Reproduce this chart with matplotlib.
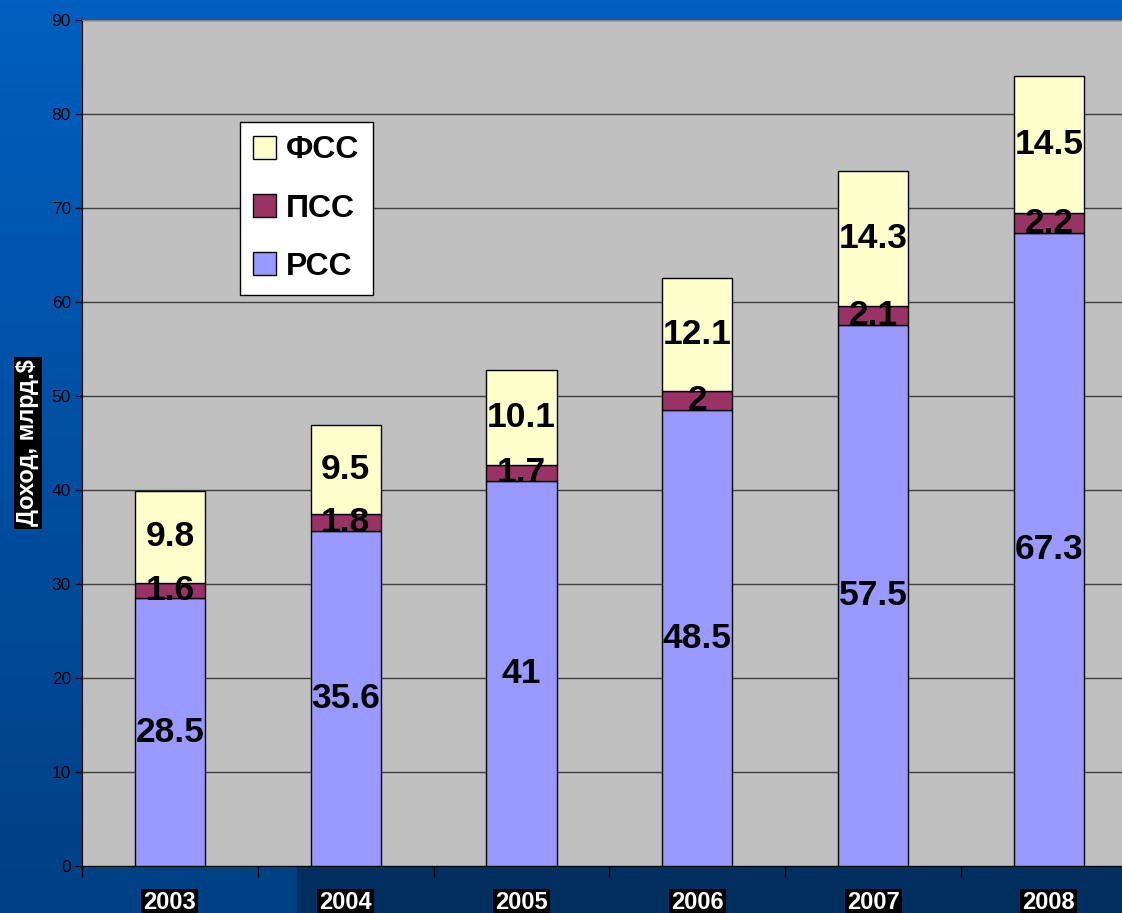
import numpy as np
import matplotlib.pyplot as plt
from matplotlib.patches import Rectangle

# Data
years = ['2003', '2004', '2005', '2006', '2007', '2008']
rss = [28.5, 35.6, 41, 48.5, 57.5, 67.3]
pss = [1.6, 1.8, 1.7, 2, 2.1, 2.2]
fss = [9.8, 9.5, 10.1, 12.1, 14.3, 14.5]

plt.rcParams['font.family'] = ['Liberation Sans', 'DejaVu Sans']

W, H = 1122, 913
fig = plt.figure(figsize=(W / 100, H / 100), dpi=100)

# slide background: blue gradient
bg = fig.add_axes([0, 0, 1, 1], zorder=-10)
top = np.array([0x00, 0x5F, 0xBF]) / 255
bot = np.array([0x00, 0x40, 0x84]) / 255
t = np.linspace(0, 1, 256)[:, None]
grad = top[None, :] * (1 - t) + bot[None, :] * t
bg.imshow(grad[:, None, :], aspect='auto', extent=[0, 1, 0, 1])
bg.add_patch(Rectangle((297 / W, 0), 1, (913 - 866) / H, color='#002F5F'))
bg.set_xlim(0, 1)
bg.set_ylim(0, 1)
bg.axis('off')

# plot area (extends past right edge like the original)
ax = fig.add_axes([82 / W, (H - 866) / H, 6 * 175.8 / W, 846 / H])
ax.set_facecolor('#C0C0C0')

x = np.arange(len(years))
w = 0.40
rss_c, pss_c, fss_c = '#9999FF', '#993366', '#FFFFCC'
b1 = ax.bar(x, rss, w, color=rss_c, edgecolor='black', linewidth=1, zorder=3, label='РСС')
b2 = ax.bar(x, pss, w, bottom=rss, color=pss_c, edgecolor='black', linewidth=1, zorder=3, label='ПСС')
base3 = [a + b for a, b in zip(rss, pss)]
b3 = ax.bar(x, fss, w, bottom=base3, color=fss_c, edgecolor='black', linewidth=1, zorder=3, label='ФСС')

# value labels
for i in range(len(years)):
    for bottom, val in [(0, rss[i]), (rss[i], pss[i]), (base3[i], fss[i])]:
        ax.text(x[i], bottom + val / 2, f'{val:g}', ha='center', va='center',
                fontsize=25.5, fontweight='bold', color='black', zorder=5)

ax.set_xlim(-0.5, 5.5)
ax.set_ylim(0, 90)
ax.set_yticks(np.arange(0, 91, 10))
ax.yaxis.grid(True, color='#404040', linewidth=1)
ax.set_axisbelow(True)
ax.tick_params(axis='y', direction='out', length=5, width=1, labelsize=12.5,
               colors='black', pad=3)

ax.set_xticks(x)
ax.set_xticklabels(years)
ax.set_xticks(np.arange(-0.5, 6, 1), minor=True)
ax.tick_params(axis='x', which='major', length=0, pad=18)
ax.tick_params(axis='x', which='minor', length=8, width=1, direction='out')
for lbl in ax.get_xticklabels():
    lbl.set_fontsize(17)
    lbl.set_fontweight('bold')
    lbl.set_color('white')
    lbl.set_bbox(dict(facecolor='black', edgecolor='none', pad=1.5))

ax.spines['top'].set_color('#808080')
ax.spines['right'].set_visible(False)
ax.spines['left'].set_color('black')
ax.spines['bottom'].set_color('black')

fig.text(28 / W, 1 - 443 / H, 'Доход, млрд.$', rotation=90, ha='center', va='center',
         fontsize=17, fontweight='bold', color='white',
         bbox=dict(facecolor='black', edgecolor='none', pad=1.5))

leg = fig.legend([b3, b2, b1], ['ФСС', 'ПСС', 'РСС'], loc='upper left',
                 bbox_to_anchor=(240 / W, 1 - 122 / H),
                 prop={'weight': 'bold', 'size': 23}, frameon=True, fancybox=False,
                 edgecolor='black', framealpha=1, labelspacing=0.88,
                 handlelength=0.72, handleheight=0.72, handletextpad=0.3,
                 borderpad=0.42, borderaxespad=0)
leg.get_frame().set_linewidth(1)

fig.savefig('out.png', dpi=100)
